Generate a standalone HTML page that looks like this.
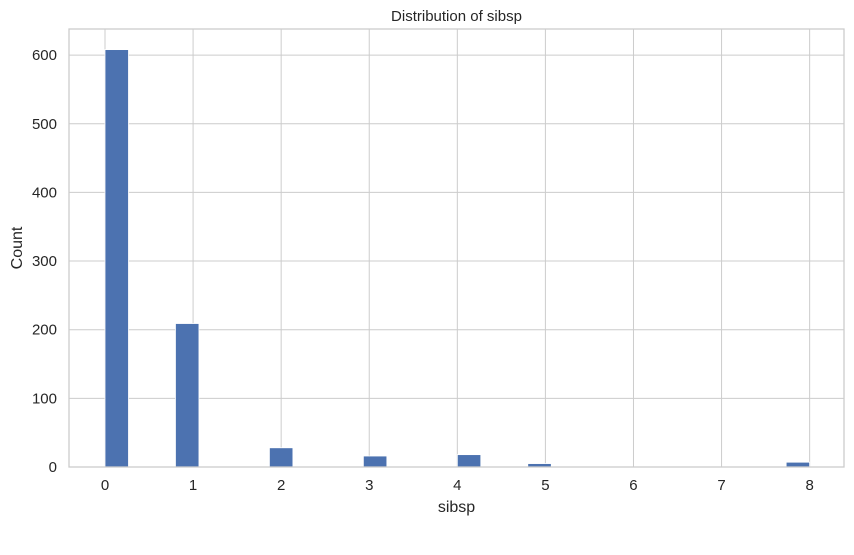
<!DOCTYPE html>
<html><head><meta charset="utf-8"><style>
body{margin:0;background:#fff;font-family:"Liberation Sans",sans-serif}
</style></head><body>
<svg width="854" height="550" xmlns="http://www.w3.org/2000/svg" font-family="Liberation Sans, sans-serif">
<g id="grid"></g><g id="bars"></g><g id="axes"></g>
</svg>
<script>
const binValues = [0,1,2,3,4,5,8];
const binCounts = [608,209,28,16,18,5,7];
const xTicks = [0,1,2,3,4,5,6,7,8];
const yTicks = [0,100,200,300,400,500,600];
const NB = 30, XMAX = 8;
const L=69,R=844,T=29,B=467;
const x = v => 105 + v*88.08;
const y = v => B - v*0.6865;
const ns="http://www.w3.org/2000/svg";
function mk(tag, attrs, parent){const e=document.createElementNS(ns,tag);for(const k in attrs)e.setAttribute(k,attrs[k]);parent.appendChild(e);return e;}
const grid=document.getElementById('grid'),bars=document.getElementById('bars'),axes=document.getElementById('axes');
xTicks.forEach(t=>{
  const g=mk('line',{x1:x(t),x2:x(t),y1:T,y2:B,stroke:'#cccccc','stroke-width':1},grid);
  
  
  const tx=mk('text',{x:x(t),y:B+23,'text-anchor':'middle','font-size':15,fill:'#262626'},axes);
  tx.textContent=t;
  
  
});
yTicks.forEach(t=>{
  const g=mk('line',{x1:L,x2:R,y1:y(t),y2:y(t),stroke:'#cccccc','stroke-width':1},grid);
  
  
  const tx=mk('text',{x:L-12,y:y(t)+5,'text-anchor':'end','font-size':15,fill:'#262626'},axes);
  tx.textContent=t;
  
  
});
const bw=XMAX/NB;
binValues.forEach((v,i)=>{
  const idx=Math.min(NB-1,Math.floor(v/bw+1e-9));
  const x0=x(idx*bw), x1=x((idx+1)*bw);
  const r=mk('rect',{x:x0,y:y(binCounts[i]),width:x1-x0,height:B-y(binCounts[i]),fill:'#4c72b0',stroke:'#ffffff','stroke-width':0.8},bars);
  
  
});
const f=mk('rect',{x:L,y:T,width:R-L,height:B-T,fill:'none',stroke:'#cccccc','stroke-width':1.3},axes);


const ti=mk('text',{x:(L+R)/2,y:T-8,'text-anchor':'middle','font-size':15,fill:'#262626'},axes);
ti.textContent='Distribution of sibsp';


const xl=mk('text',{x:(L+R)/2,y:B+45,'text-anchor':'middle','font-size':16,fill:'#262626'},axes);
xl.textContent='sibsp';


const yl=mk('text',{x:0,y:0,'text-anchor':'middle','font-size':16,fill:'#262626',transform:'translate(22,'+((T+B)/2)+') rotate(-90)'},axes);
yl.textContent='Count';


</script>
</body></html>
